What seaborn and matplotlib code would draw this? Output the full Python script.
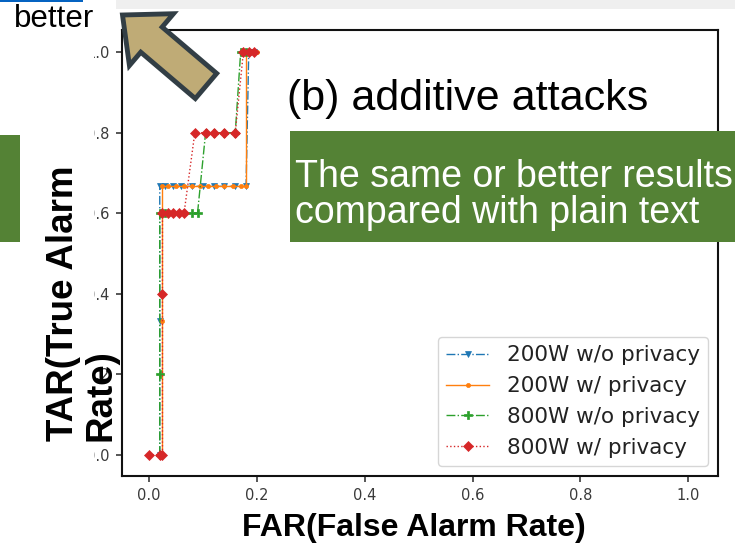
import matplotlib
matplotlib.use("Agg")
import matplotlib.pyplot as plt
import seaborn as sns
from matplotlib.patches import Rectangle, FancyArrow

# ---- data ----
labels = ["200W w/o privacy", "200W w/ privacy", "800W w/o privacy", "800W w/ privacy"]

blue_x = [0.02, 0.02, 0.02, 0.03, 0.045, 0.06, 0.08, 0.10, 0.12, 0.14, 0.16, 0.18, 0.185, 0.19, 0.195]
blue_y = [0.0, 0.333, 0.667, 0.667, 0.667, 0.667, 0.667, 0.667, 0.667, 0.667, 0.667, 0.667, 1.0, 1.0, 1.0]

orange_x = [0.025, 0.025, 0.025, 0.035, 0.05, 0.065, 0.08, 0.095, 0.11, 0.125, 0.14, 0.155, 0.17, 0.18, 0.18, 0.19, 0.2]
orange_y = [0.0, 0.333, 0.667, 0.667, 0.667, 0.667, 0.667, 0.667, 0.667, 0.667, 0.667, 0.667, 0.667, 0.667, 1.0, 1.0, 1.0]

green_x = [0.02, 0.02, 0.02, 0.03, 0.08, 0.09, 0.105, 0.12, 0.14, 0.16, 0.17, 0.18]
green_y = [0.0, 0.2, 0.6, 0.6, 0.6, 0.6, 0.8, 0.8, 0.8, 0.8, 1.0, 1.0]

red_x = [0.0, 0.02, 0.025, 0.025, 0.025, 0.035, 0.045, 0.055, 0.065, 0.085, 0.105, 0.12, 0.14, 0.16, 0.175, 0.185, 0.195]
red_y = [0.0, 0.0, 0.0, 0.4, 0.6, 0.6, 0.6, 0.6, 0.6, 0.8, 0.8, 0.8, 0.8, 0.8, 1.0, 1.0, 1.0]

xticks = [0.0, 0.2, 0.4, 0.6, 0.8, 1.0]
yticks = [0.0, 0.2, 0.4, 0.6, 0.8, 1.0]

colors = ["#1f77b4", "#ff7f0e", "#2ca02c", "#d62728"]
markers = ["v", "o", "P", "D"]
msizes = [4, 3, 5.5, 5.5]
lstyles = ["-.", "-", "-.", ":"]

W, H = 735, 551
fig = plt.figure(figsize=(W / 100, H / 100), dpi=100)
ax = fig.add_axes([122 / W, 1 - 476 / H, (718 - 122) / W, (476 - 30) / H])

series = [(blue_x, blue_y), (orange_x, orange_y), (green_x, green_y), (red_x, red_y)]
for (xs, ys), lab, c, m, ms, ls in zip(series, labels, colors, markers, msizes, lstyles):
    sns.lineplot(x=xs, y=ys, ax=ax, sort=False, estimator=None, color=c,
                 marker=m, markersize=ms, linestyle=ls, linewidth=1.0,
                 markeredgecolor=c, markeredgewidth=0.5, label=lab)

ax.set_xlim(-0.05, 1.055)
ax.set_ylim(-0.052, 1.055)
ax.set_xticks(xticks)
ax.set_yticks(yticks)
ax.set_xticklabels([f"{v:.1f}" for v in xticks])
ax.set_yticklabels([f"{v:.1f}" for v in yticks])
ax.tick_params(labelsize=10.5, colors="#3a3a3a", length=4.5, width=1.2, pad=4.5)
for sp in ax.spines.values():
    sp.set_linewidth(1.5)
    sp.set_color("#111111")

ax.set_xlabel("FAR(False Alarm Rate)", fontsize=23, fontweight="bold",
              family="Liberation Sans")
ax.xaxis.set_label_coords(0.49, -0.082)
ax.set_ylabel("")

leg = ax.legend(loc="lower right", fontsize=15.5, frameon=True, handlelength=2.0,
                handletextpad=0.8, borderpad=0.4, labelspacing=0.5,
                borderaxespad=0.45)
leg.get_frame().set_edgecolor("#cccccc")
for t in leg.get_texts():
    t.set_color("#222222")

# ---- slide overlays ----
# white cover left of the cropped chart image
fig.patches.append(Rectangle((0, 0), 94 / W, 1, transform=fig.transFigure,
                             facecolor="white", edgecolor="none", zorder=2))
# grey top bar
fig.patches.append(Rectangle((116 / W, 1 - 9 / H), 1 - 116 / W, 9 / H, transform=fig.transFigure,
                             facecolor="#efefef", edgecolor="none", zorder=2))
# blue underline top-left
fig.patches.append(Rectangle((0, 1 - 2 / H), 83 / W, 2 / H, transform=fig.transFigure,
                             facecolor="#0563C1", edgecolor="none", zorder=3))
# left green block
fig.patches.append(Rectangle((0, 1 - 242 / H), 20 / W, (242 - 135) / H, transform=fig.transFigure,
                             facecolor="#548235", edgecolor="none", zorder=3))
# green callout box
fig.patches.append(Rectangle((290 / W, 1 - 241.5 / H), 1 - 290 / W, (241.5 - 131.5) / H,
                             transform=fig.transFigure, facecolor="#548235",
                             edgecolor="none", zorder=3))
fig.text(295 / W, 1 - 187 / H, "The same or better results",
         color="white", fontsize=27, family="Liberation Sans", ha="left", va="baseline",
         zorder=4)
fig.text(295 / W, 1 - 223 / H, "compared with plain text",
         color="white", fontsize=27, family="Liberation Sans", ha="left", va="baseline",
         zorder=4)

fig.text(287 / W, 1 - 110 / H, "(b) additive attacks", fontsize=31, family="Liberation Sans",
         ha="left", va="baseline", zorder=4)

fig.text(14 / W, 1 - 27 / H, "better", fontsize=22.5, family="Liberation Sans",
         ha="left", va="baseline", zorder=4)

fig.text(46 / W, 1 - 441 / H, "TAR(True Alarm\nRate)", rotation=90, fontsize=26.5,
         fontweight="bold", family="Liberation Sans", ha="left", va="bottom",
         multialignment="left", linespacing=1.1, zorder=4)

# arrow pointing to top-left ("better")
tail = (2.06, (H - 86) / 100)
tip = (1.225, (H - 15) / 100)
arr = FancyArrow(tail[0], tail[1], tip[0] - tail[0], tip[1] - tail[1], width=0.33,
                 head_width=0.68, head_length=0.38, length_includes_head=True,
                 transform=fig.dpi_scale_trans, facecolor="#BFAB76", edgecolor="#323E45",
                 linewidth=3.5, zorder=5)
fig.patches.append(arr)

fig.savefig("out.png", dpi=100)
